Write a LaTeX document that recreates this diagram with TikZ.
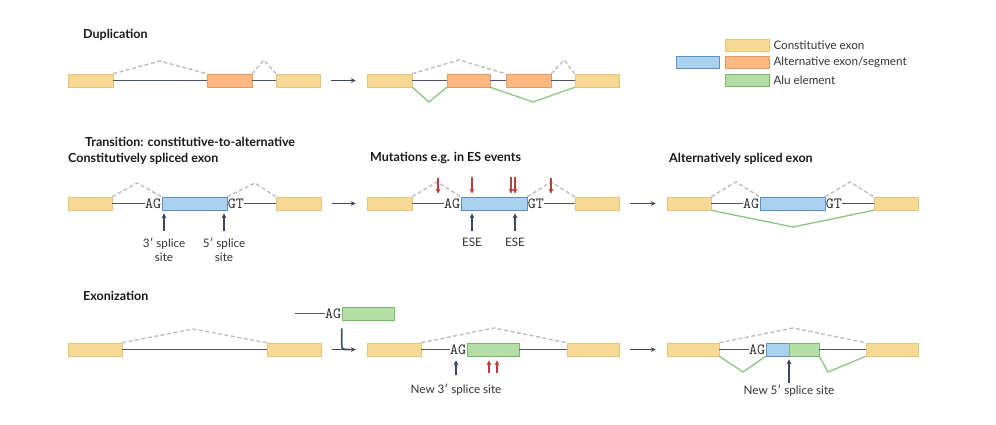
\documentclass[tikz,border=0pt]{standalone}
\usepackage{fontspec}
\setmainfont{Lato}
\usetikzlibrary{arrows.meta,positioning}
\definecolor{yel}{HTML}{F6D992}
\definecolor{yelb}{HTML}{E4C47A}
\definecolor{ora}{HTML}{FCB87F}
\definecolor{orab}{HTML}{E39B63}
\definecolor{blu}{HTML}{AAD2EF}
\definecolor{blub}{HTML}{5B8FC0}
\definecolor{gre}{HTML}{B5DEA6}
\definecolor{greb}{HTML}{79B86B}
\definecolor{intr}{HTML}{4B5466}
\definecolor{dsh}{HTML}{BCBCC6}
\definecolor{grl}{HTML}{8CC57F}
\definecolor{mut}{HTML}{B5403F}
\definecolor{arr}{HTML}{3E4759}
\begin{document}
\begin{tikzpicture}[x=1pt,y=-1pt,
	box/.style={draw,minimum height=13pt,inner sep=0pt,line width=0.6pt},
	yexon/.style={box,fill=yel,draw=yelb},
	oexon/.style={box,fill=ora,draw=orab},
	bexon/.style={box,fill=blu,draw=blub},
	gexon/.style={box,fill=gre,draw=greb},
	intron/.style={line width=1.9pt,draw=intr},
	splice/.style={dash pattern=on 4pt off 2.5pt,line width=1.4pt,draw=dsh},
	gjoin/.style={line width=1.3pt,draw=grl},
	darr/.style={-{Stealth[length=5pt,width=5pt]},line width=1.6pt,draw=arr},
	rarr/.style={-{Stealth[length=5pt,width=5pt]},line width=1.6pt,draw=mut,shorten >=3pt},
	flow/.style={darr,shorten <=11pt,shorten >=11pt},
	site/.style={font=\ttfamily\fontsize{15.5}{15.5}\selectfont,inner sep=0.3pt,text=black!85},
	ttl/.style={font=\bfseries\fontsize{12.5}{14}\selectfont,anchor=west,inner sep=0pt,text=black!90},
	lbl/.style={font=\fontsize{11.7}{13.5}\selectfont,align=center,inner sep=1pt,text=black!80}]
	\useasboundingbox (0,0) rectangle (996,425);

	\node (t1)[ttl] at (83,35) {Duplication};
	\node (c1)[yexon,minimum width=45pt] at (90.5,80.5) {};
	\node (o1)[oexon,minimum width=45pt] at (229.5,80.5) {};
	\node (c2)[yexon,minimum width=44pt] at (298,80.5) {};
	\node (c3)[yexon,minimum width=45pt] at (389.5,80.5) {};
	\node (o2)[oexon,minimum width=43pt] at (468.5,80.5) {};
	\node (o3)[oexon,minimum width=45pt] at (528.5,80.5) {};
	\node (c4)[yexon,minimum width=44pt] at (597,80.5) {};
	\coordinate (p1) at (160,61);
	\coordinate (p2) at (264,60);
	\coordinate (p3) at (459,60);
	\coordinate (p4) at (564,60);
	\coordinate (q1) at (429,102);
	\coordinate (q2) at (533,102);
	\draw[intron] (c1.east)--(o1.west) (o1.east)--(c2.west);
	\draw[intron] (c3.east)--(o2.west) (o2.east)--(o3.west) (o3.east)--(c4.west);
	\draw[splice] (c1.north east)--(p1)--(o1.north west);
	\draw[splice] (o1.north east)--(p2)--(c2.north west);
	\draw[splice] (c3.north east)--(p3)--(o3.north west);
	\draw[splice] (o3.north east)--(p4)--(c4.north west);
	\draw[gjoin] (c3.south east)--(q1)--(o2.south west);
	\draw[gjoin] (o2.south east)--(q2)--(c4.south west);
	\draw[flow] (c2)--(c3);

	\node (k1)[yexon,minimum width=44pt,minimum height=12pt] at (747,45) {};
	\node (k2)[oexon,minimum width=44pt,minimum height=12pt] at (747,62.5) {};
	\node (k3)[gexon,minimum width=44pt,minimum height=12pt] at (747,80) {};
	\node (k4)[bexon,minimum width=43pt,minimum height=12pt] at (697.5,62.5) {};
	\node[lbl,right=3pt of k1] {Constitutive exon};
	\node[lbl,right=3pt of k2] {Alternative exon/segment};
	\node[lbl,right=3pt of k3] {Alu element};

	\node (t2)[ttl] at (85,142) {Transition: constitutive-to-alternative};
	\node (t3)[ttl] at (68,159) {Constitutively spliced exon};
	\node (t4)[ttl] at (370,158) {Mutations e.g. in ES events};
	\node (t5)[ttl] at (669,159) {Alternatively spliced exon};

	\node (d1)[yexon,minimum width=44pt] at (90,203.5) {};
	\node (b1)[bexon,minimum width=65pt] at (194.5,203.5) {};
	\node (d2)[yexon,minimum width=45pt] at (298.5,203.5) {};
	\node (ag1)[site,left=0pt of b1] {AG};
	\node (gt1)[site,right=0pt of b1] {GT};
	\coordinate (p5) at (137,183);
	\coordinate (p6) at (255,183);
	\draw[intron] (d1.east)--(ag1.west) (gt1.east)--(d2.west);
	\draw[splice] (d1.north east)--(p5)--(b1.north west);
	\draw[splice] (b1.north east)--(p6)--(d2.north west);
	\node (s1)[lbl] at (164,250) {3′ splice\\site};
	\node (s2)[lbl] at (224,250) {5′ splice\\site};
	\draw[darr,shorten <=6pt,shorten >=3pt] (s1)--(s1 |- b1.south);
	\draw[darr,shorten <=6pt,shorten >=3pt] (s2)--(s2 |- b1.south);

	\node (e1)[yexon,minimum width=45pt] at (389.5,203.5) {};
	\node (b2)[bexon,minimum width=66pt] at (494,203.5) {};
	\node (e2)[yexon,minimum width=44pt] at (597,203.5) {};
	\node (ag2)[site,left=0pt of b2] {AG};
	\node (gt2)[site,right=0pt of b2] {GT};
	\coordinate (p7) at (437,182);
	\coordinate (p8) at (551,182);
	\draw[intron] (e1.east)--(ag2.west) (gt2.east)--(e2.west);
	\draw[splice] (e1.north east)--(p7)--(b2.north west);
	\draw[splice] (b2.north east)--(p8)--(e2.north west);
	\coordinate (m1) at (438,178);
	\coordinate (m2) at (472,177);
	\coordinate (m3) at (511,177);
	\coordinate (m4) at (515,177);
	\coordinate (m5) at (551,178);
	\foreach \i in {1,...,5}
		\draw[rarr] (m\i)--(m\i |- b2.north);
	\node (ese1)[lbl] at (472,242) {ESE};
	\node (ese2)[lbl] at (515,242) {ESE};
	\draw[darr,shorten <=6pt,shorten >=3pt] (ese1)--(ese1 |- b2.south);
	\draw[darr,shorten <=6pt,shorten >=3pt] (ese2)--(ese2 |- b2.south);
	\draw[flow] (d2)--(e1);

	\node (f1)[yexon,minimum width=44pt] at (689,203.5) {};
	\node (b3)[bexon,minimum width=65pt] at (792.5,203.5) {};
	\node (f2)[yexon,minimum width=44pt] at (896,203.5) {};
	\node (ag3)[site,left=0pt of b3] {AG};
	\node (gt3)[site,right=0pt of b3] {GT};
	\coordinate (p9) at (736,182);
	\coordinate (p10) at (850,182);
	\coordinate (q3) at (793,227);
	\draw[intron] (f1.east)--(ag3.west) (gt3.east)--(f2.west);
	\draw[splice] (f1.north east)--(p9)--(b3.north west);
	\draw[splice] (b3.north east)--(p10)--(f2.north west);
	\draw[gjoin] (f1.south east)--(q3)--(f2.south west);
	\draw[flow] (e2)--(f1);

	\node (t6)[ttl] at (83,296) {Exonization};
	\node (g1)[yexon,minimum width=54pt] at (95,349.5) {};
	\node (g2)[yexon,minimum width=54pt] at (294,349.5) {};
	\coordinate (p11) at (193,329);
	\draw[intron] (g1.east)--(g2.west);
	\draw[splice] (g1.north east)--(p11)--(g2.north west);
	\node (a0)[gexon,minimum width=52pt] at (368,313.5) {};
	\node (ag4)[site,left=0pt of a0] {AG};
	\coordinate (r0) at (295,313.5);
	\draw[intron] (r0)--(ag4.west);
	\coordinate (r1) at ([yshift=-8pt]a0.south west);
	\coordinate (r2) at (350,349.5);
	\draw[intron,rounded corners=3pt] (r1) |- (r2);

	\node (h1)[yexon,minimum width=54pt] at (394,349.5) {};
	\node (a2)[gexon,minimum width=52pt] at (493,349.5) {};
	\node (h2)[yexon,minimum width=52pt] at (593,349.5) {};
	\node (ag5)[site,left=0pt of a2] {AG};
	\coordinate (p12) at (494,328);
	\draw[intron] (h1.east)--(ag5.west) (a2.east)--(h2.west);
	\draw[splice] (h1.north east)--(p12)--(h2.north west);
	\node (n3)[lbl] at (456,390) {New 3′ splice site};
	\draw[darr,shorten <=8pt,shorten >=4pt] (n3)--(n3 |- a2.south);
	\coordinate (m6) at (489,373);
	\coordinate (m7) at (497,373);
	\draw[rarr,shorten >=4pt] (m6)--(m6 |- a2.south);
	\draw[rarr,shorten >=4pt] (m7)--(m7 |- a2.south);
	\draw[flow] (g2)--(h1);

	\node (i1)[yexon,minimum width=52pt] at (693,349.5) {};
	\node (b4)[bexon,minimum width=23pt] at (777.5,349.5) {};
	\node (a3)[gexon,minimum width=30pt] at (804,349.5) {};
	\node (i2)[yexon,minimum width=52pt] at (892,349.5) {};
	\node (ag6)[site,left=0pt of b4] {AG};
	\coordinate (p13) at (793,328);
	\coordinate (q4) at (743,372);
	\coordinate (q5) at (828,372);
	\draw[intron] (i1.east)--(ag6.west) (a3.east)--(i2.west);
	\draw[splice] (i1.north east)--(p13)--(i2.north west);
	\draw[gjoin] (i1.south east)--(q4)--(b4.south west);
	\draw[gjoin] (a3.south east)--(q5)--(i2.south west);
	\node (n5)[lbl] at (789,391) {New 5′ splice site};
	\draw[darr,shorten <=1pt,shorten >=3pt] (n5)--(n5 |- b4.south east);
	\draw[flow] (h2)--(i1);
\end{tikzpicture}
\end{document}
